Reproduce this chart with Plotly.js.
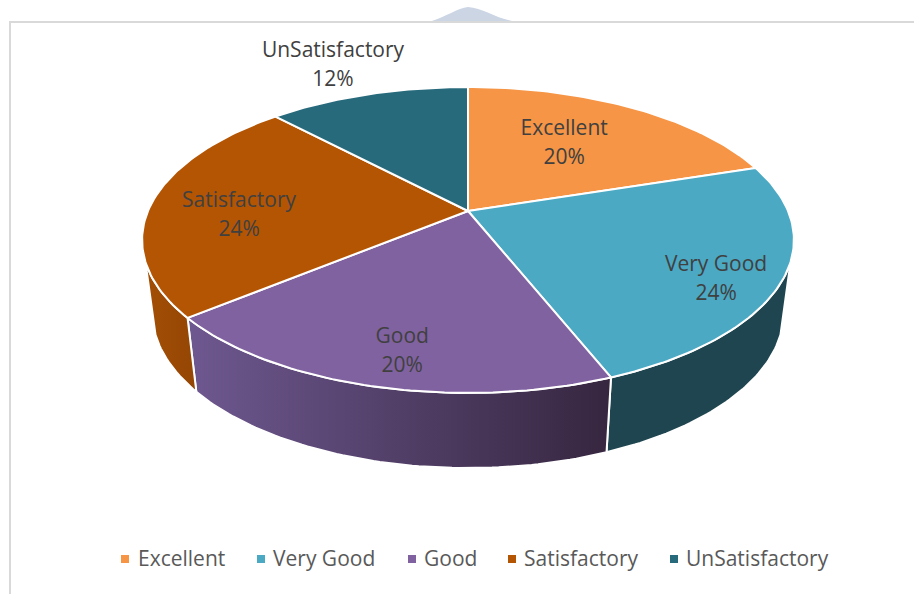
<!DOCTYPE html>
<html><head><meta charset="utf-8">
<script src="https://cdn.plot.ly/plotly-3.0.1.min.js"></script>
<style>html,body{margin:0;padding:0;background:#fff;overflow:hidden}</style>
</head><body><div id="chart" style="width:914px;height:594px"></div>
<script>
// ---- data ----
var categories = ["Excellent", "Very Good", "Good", "Satisfactory", "UnSatisfactory"];
var percentages = [20, 24, 20, 24, 12];
// ---- styles ----
var topColors = ["#F59545", "#4BA9C4", "#8062A0", "#B45504", "#276A7C"];
var wallFrom = ["#A65A2A", "#1F4650", "#6E5890", "#A34E05", "#1C4B58"];
var wallTo = ["#A65A2A", "#1F4650", "#36263F", "#944604", "#1C4B58"];
var labelRadius = [0.61, 0.827, 0.819, 0.713, 1.33];
var labelAngleShift = [-3.3, 5.1, -2.1, -5.2, -1.4];
var legendMarkerX = [125, 261, 412, 512, 674];
var legendTextX = [138, 273, 424, 524, 686];
var FONT = '"Open Sans", sans-serif';
// ---- projection of the tilted disc (perspective) ----
var CX = 468, k = -0.1895;
var topFace = {cy: 211, a: 320, b: 147.5};
var baseFace = {cy: 283, a: 310, b: 150};
var SILHOUETTE = 108.9;
function project(face, deg, r) {
  var t = deg * Math.PI / 180, x = r * Math.sin(t), y = -r * Math.cos(t), w = 1 + k * y;
  return [CX + face.a * x / w, face.cy + face.b * y / w];
}
function arc(face, from, to) {
  var pts = [], n = Math.max(2, Math.ceil(Math.abs(to - from))), i;
  for (i = 0; i <= n; i++) pts.push(project(face, from + (to - from) * i / n, 1));
  return pts;
}
function poly(pts) {
  return {x: pts.map(function (p) { return p[0]; }), y: pts.map(function (p) { return p[1]; })};
}
var total = percentages.reduce(function (a, b) { return a + b; }, 0);
var starts = [], acc = 0;
percentages.forEach(function (v) { starts.push(acc / total * 360); acc += v; });

var traces = [];
// side walls
categories.forEach(function (c, i) {
  var s = Math.max(starts[i], SILHOUETTE), e = Math.min(starts[i] + percentages[i] / total * 360, 360 - SILHOUETTE);
  if (e <= s) return;
  var p = poly(arc(topFace, s, e).concat(arc(baseFace, e, s)));
  p.x.push(p.x[0]); p.y.push(p.y[0]);
  traces.push({type: "scatter", mode: "lines", x: p.x, y: p.y, fill: "toself", showlegend: false, hoverinfo: "skip",
    line: {color: "#FFFFFF", width: 2},
    fillgradient: {type: "horizontal", colorscale: [[0, wallFrom[i]], [1, wallTo[i]]]}});
});
// top face
categories.forEach(function (c, i) {
  var e = starts[i] + percentages[i] / total * 360;
  var pts = [[CX, topFace.cy]].concat(arc(topFace, starts[i], e));
  pts.push([CX, topFace.cy]);
  var p = poly(pts);
  traces.push({type: "scatter", mode: "lines", x: p.x, y: p.y, fill: "toself", fillcolor: topColors[i], showlegend: false,
    line: {color: "#FFFFFF", width: 2}, name: c, hoverinfo: "skip"});
});
// data labels
var lx = [], ly = [], lt = [];
categories.forEach(function (c, i) {
  var mid = starts[i] + percentages[i] / total * 180 + labelAngleShift[i];
  var p = project(topFace, mid, labelRadius[i]);
  lx.push(p[0], p[0]); ly.push(p[1] - 12.5, p[1] + 16.5);
  lt.push(c, percentages[i] + "%");
});
traces.push({type: "scatter", mode: "text", x: lx, y: ly, text: lt, textposition: "middle center",
  textfont: {family: FONT, size: 21, color: "#404040"}, showlegend: false, hoverinfo: "skip"});
// legend row
traces.push({type: "scatter", mode: "markers", x: legendMarkerX, y: categories.map(function () { return 559; }),
  marker: {symbol: "square", size: 8, color: topColors}, showlegend: false, hoverinfo: "skip"});
traces.push({type: "scatter", mode: "text", x: legendTextX, y: categories.map(function () { return 561; }), text: categories,
  textposition: "middle right", textfont: {family: FONT, size: 21, color: "#595959"}, showlegend: false, hoverinfo: "skip"});

var layout = {
  width: 914, height: 594, margin: {l: 0, r: 0, t: 0, b: 0},
  paper_bgcolor: "#FFFFFF", plot_bgcolor: "#FFFFFF", showlegend: false,
  xaxis: {range: [0, 914], visible: false, fixedrange: true},
  yaxis: {range: [594, 0], visible: false, fixedrange: true},
  shapes: [
    {type: "path", layer: "below", xref: "x", yref: "y", path: "M 432 21 C 445 17 458 8 468 7 C 482 8 496 18 512 21 Z", fillcolor: "#CBD5E4", line: {width: 0}},
    {type: "line", layer: "below", xref: "x", yref: "y", x0: 9, x1: 914, y0: 22, y1: 22, line: {color: "#D9D9D9", width: 2}},
    {type: "line", layer: "below", xref: "x", yref: "y", x0: 10, x1: 10, y0: 21, y1: 594, line: {color: "#D9D9D9", width: 2}}
  ]
};
Plotly.newPlot("chart", traces, layout, {displayModeBar: false, staticPlot: true});
</script></body></html>
